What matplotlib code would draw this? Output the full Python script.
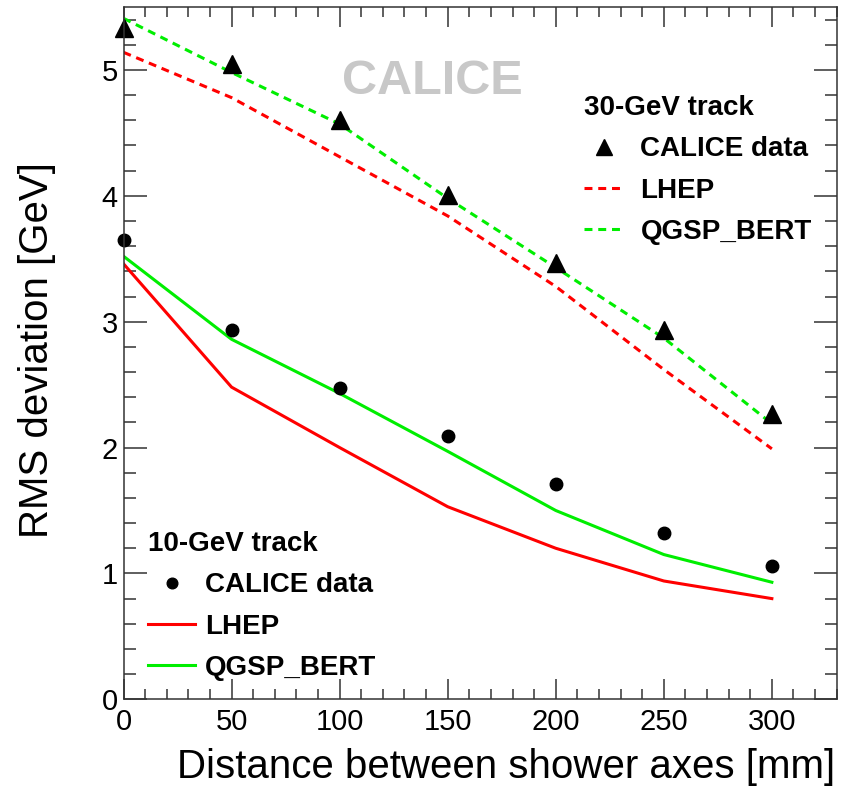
import numpy as np
import matplotlib
matplotlib.use("Agg")
import matplotlib.pyplot as plt
from matplotlib.ticker import MultipleLocator

plt.rcParams['font.family'] = ['Liberation Sans', 'DejaVu Sans']

# distance between shower axes [mm]
dist = [0, 50, 100, 150, 200, 250, 300]

# 30 GeV track
data30 = [5.33, 5.05, 4.60, 4.01, 3.47, 2.93, 2.27]
lhep30 = [5.14, 4.78, 4.31, 3.84, 3.28, 2.62, 1.99]
qgsp30 = [5.41, 4.98, 4.57, 3.98, 3.43, 2.87, 2.19]

# 10 GeV track
data10 = [3.65, 2.93, 2.47, 2.09, 1.71, 1.32, 1.06]
lhep10 = [3.46, 2.48, 2.00, 1.53, 1.20, 0.94, 0.80]
qgsp10 = [3.52, 2.86, 2.43, 1.97, 1.50, 1.15, 0.93]

W, H = 850, 789
fig = plt.figure(figsize=(W / 100, H / 100), dpi=100)
ax = fig.add_axes([123.5 / W, 1 - 699.3 / H, (836.7 - 123.5) / W, (699.3 - 7) / H])

red = '#ff0000'
green = '#00ee00'
dash = (2.6, 1.9)

l_r30, = ax.plot(dist, lhep30, color=red, lw=2.2, dashes=dash)
l_g30, = ax.plot(dist, qgsp30, color=green, lw=2.2, dashes=dash)
m30, = ax.plot(dist, data30, ls='none', marker='^', ms=13, color='black', clip_on=False)

l_r10, = ax.plot(dist, lhep10, color=red, lw=2.2)
l_g10, = ax.plot(dist, qgsp10, color=green, lw=2.2)
m10, = ax.plot(dist, data10, ls='none', marker='o', ms=9, color='black', clip_on=False)

ax.set_xlim(0, 330)
ax.set_ylim(0, 5.5)
ax.xaxis.set_major_locator(MultipleLocator(50))
ax.xaxis.set_minor_locator(MultipleLocator(10))
ax.yaxis.set_major_locator(MultipleLocator(1))
ax.yaxis.set_minor_locator(MultipleLocator(0.2))
ax.tick_params(axis='both', which='both', direction='in', top=True, right=True,
               color='#333333', width=1.1, labelsize=21)
ax.tick_params(axis='x', which='major', length=14.5, pad=6)
ax.tick_params(axis='x', which='minor', length=7)
ax.tick_params(axis='y', which='major', length=16.5, pad=4)
ax.tick_params(axis='y', which='minor', length=8.5)
for s in ax.spines.values():
    s.set_color('#333333')
    s.set_linewidth(1.1)

fig.text(835 / W, 1 - 767 / H, 'Distance between shower axes [mm]',
         ha='right', va='center', fontsize=29)
fig.text(37 / W, 1 - 350 / H, 'RMS deviation [GeV]', rotation=90,
         ha='center', va='center', fontsize=29)

ax.text((432 - 123.5) / (836.7 - 123.5), 1 - (81 - 7) / (699.3 - 7),
        'CALICE', transform=ax.transAxes, ha='center', va='center',
        fontsize=35, fontweight='bold', color='#c8c8c8')

lfont = {'weight': 'bold', 'size': 20}
leg1 = ax.legend([m30, l_r30, l_g30], ['CALICE data', 'LHEP', 'QGSP_BERT'],
                 title='30-GeV track', title_fontproperties=lfont, prop=lfont,
                 alignment='left', frameon=False, loc='upper left',
                 bbox_to_anchor=(584 / W, 1 - 95 / H), bbox_transform=fig.transFigure,
                 borderpad=0, borderaxespad=0, handlelength=1.45,
                 handletextpad=0.58, labelspacing=0.55, markerscale=0.85)
ax.add_artist(leg1)
leg2 = ax.legend([m10, l_r10, l_g10], ['CALICE data', 'LHEP', 'QGSP_BERT'],
                 title='10-GeV track', title_fontproperties=lfont, prop=lfont,
                 alignment='left', frameon=False, loc='upper left',
                 bbox_to_anchor=(148 / W, 1 - 531 / H), bbox_transform=fig.transFigure,
                 borderpad=0, borderaxespad=0, handlelength=1.7,
                 handletextpad=0.36, labelspacing=0.55, markerscale=0.85)

fig.savefig('out.png', dpi=100)
